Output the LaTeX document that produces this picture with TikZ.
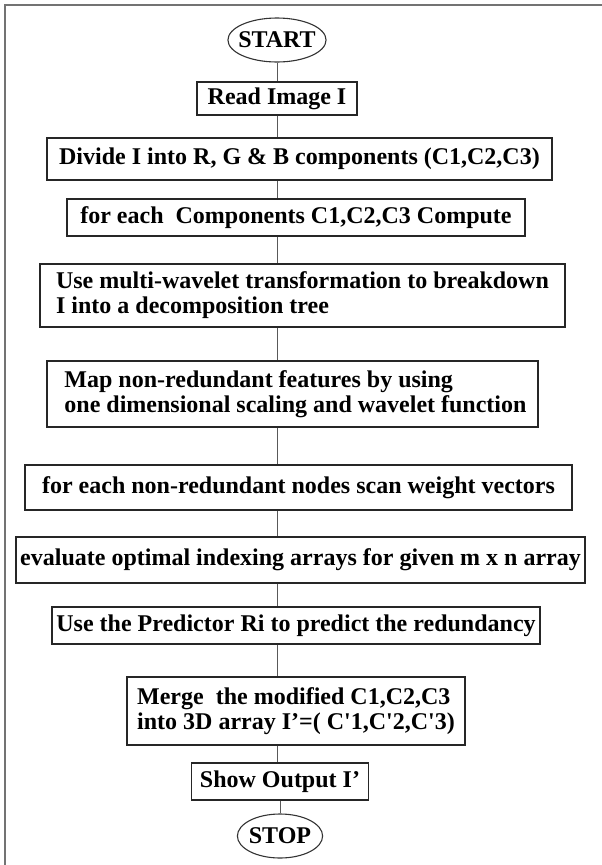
\documentclass[tikz,border=0pt]{standalone}
\usepackage{fontspec}
\setmainfont{Liberation Serif}
\usetikzlibrary{shapes.geometric}
\begin{document}
\begin{tikzpicture}[x=1pt, y=-1pt,
    every node/.style={font=\fontsize{24}{25}\selectfont\bfseries, inner sep=0pt},
    stepbox/.style={draw=black!85, line width=1.3pt, minimum height=#1, align=left},
    endpoint/.style={draw=black!80, line width=1.1pt, ellipse, minimum height=44},
    link/.style={draw=black!65, line width=1pt}]
    \useasboundingbox (0, 0) rectangle (602, 865);
    \draw[black!55, line width=2pt] (5, 865) -- (5, 5) -- (602, 5);
    \coordinate (spine) at (277, 0);
    \node[endpoint, inner xsep=-4pt] (start) at (277, 40) {START};
    \node[stepbox=33, minimum width=160] (read) at (277, 98.5) {Read Image I};
    \node[stepbox=42, minimum width=505] (divide) at (299.5, 159) {Divide I into R, G \& B components (C1,C2,C3)};
    \node[stepbox=37, minimum width=458] (comp) at (296, 217.5) {for each\ \ Components C1,C2,C3 Compute};
    \node[stepbox=63, minimum width=525] (multi) at (302.5, 295.5)
        {Use multi-wavelet transformation to breakdown\\I into a decomposition tree};
    \node[stepbox=66, minimum width=491] (map) at (292.5, 394)
        {\ Map non-redundant features by using\\\ one dimensional scaling and wavelet function};
    \node[stepbox=45, minimum width=547] (nonred) at (298.5, 487.5) {for each non-redundant nodes scan weight vectors};
    \node[stepbox=46, minimum width=569] (eval) at (300.5, 560) {evaluate optimal indexing arrays for given m x n array};
    \node[stepbox=37, minimum width=488] (pred) at (296, 625.5) {Use the Predictor Ri to predict the redundancy};
    \node[stepbox=68, minimum width=338] (merge) at (296, 711)
        {Merge\ \ the modified C1,C2,C3\\into 3D array I’=( C\textquotesingle1,C\textquotesingle2,C\textquotesingle3)};
    \node[stepbox=37, minimum width=177] (show) at (280, 781.5) {Show Output I’};
    \node[endpoint, inner xsep=-1pt] (stop) at (280, 836) {STOP};
    \foreach \a/\b in {start/read, read/divide, divide/comp, comp/multi, multi/map,
        map/nonred, nonred/eval, eval/pred, pred/merge, merge/show}
        \draw[link] (\a.south -| spine) -- (\b.north -| spine);
    \draw[link] (show.south) -- (stop.north);
\end{tikzpicture}
\end{document}
